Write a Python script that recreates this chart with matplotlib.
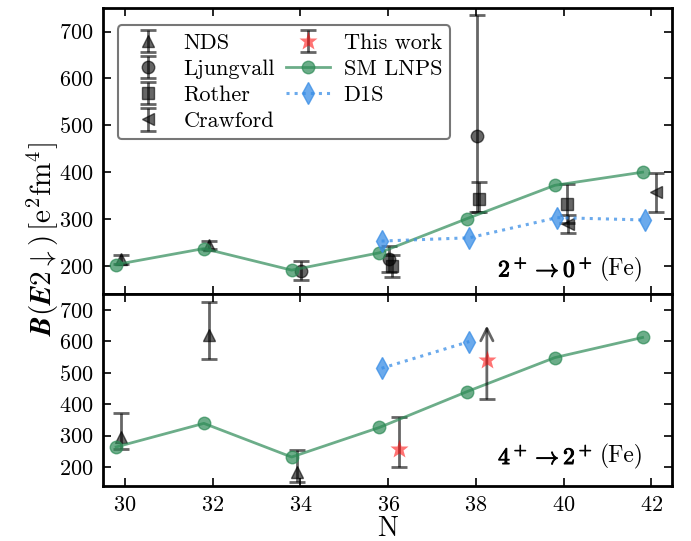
import matplotlib
matplotlib.use("Agg")
import matplotlib.pyplot as plt
import matplotlib.patheffects as pe

plt.rcParams['font.family'] = 'serif'
plt.rcParams['font.serif'] = ['cmr10', 'DejaVu Serif']
plt.rcParams['mathtext.fontset'] = 'cm'
plt.rcParams['axes.unicode_minus'] = False
plt.rcParams['axes.formatter.use_mathtext'] = True

# ---------------- data ----------------
xticks = [30, 32, 34, 36, 38, 40, 42]

# SM LNPS
sm_N = [30, 32, 34, 36, 38, 40, 42]
sm_20 = [203, 237, 191, 228, 301, 372, 400]
sm_42 = [264, 339, 232, 326, 440, 548, 612]

# D1S
d1s_N_20 = [36, 38, 40, 42]
d1s_20 = [253, 260, 303, 298]
d1s_N_42 = [36, 38]
d1s_42 = [514, 599]

# NDS
nds_N_20 = [30, 32]
nds_20 = [214, 245]
nds_20_err = [10, 9]
nds_N_42 = [30, 32, 34]
nds_42 = [296, 621, 184]
nds_42_lo = [40, 78, 32]
nds_42_hi = [76, 104, 69]

# Ljungvall
lj_N = [34, 36, 38]
lj_20 = [190, 214, 477]
lj_lo = [20, 28, 163]
lj_hi = [20, 28, 258]

# Rother
ro_N = [36, 38, 40]
ro_20 = [200, 342, 333]
ro_lo = [24, 28, 41]
ro_hi = [24, 38, 41]

# Crawford
cr_N = [40, 42]
cr_20 = [290, 357]
cr_err = [19, 42]

# This work (4+ -> 2+)
tw_N = [36, 38]
tw_42 = [256, 539]
tw_lo = [56]
tw_hi = [104]
tw_limit_low = 418   # lower limit of second point
tw_limit_arrow = 650  # arrow tip

# ---------------- styles ----------------
grey = 'k'
galpha = 0.6
green = '#2e8b57'
blue = '#3a8ee6'
eb_kw = dict(ls='none', color=grey, alpha=galpha, elinewidth=2, capsize=6, capthick=2)

fig, (ax1, ax2) = plt.subplots(2, 1, figsize=(6.91, 5.41), dpi=100, sharex=True,
                               gridspec_kw=dict(height_ratios=[286, 192]))
fig.subplots_adjust(left=0.149, right=0.9725, top=0.985, bottom=0.1017, hspace=0)

# ---- top panel: 2+ -> 0+
h_nds = ax1.errorbar([n - 0.08 for n in nds_N_20], nds_20, yerr=nds_20_err, marker='^', ms=8,
                     label='NDS', **eb_kw)
h_lj = ax1.errorbar([n + 0.02 for n in lj_N], lj_20, yerr=[lj_lo, lj_hi], marker='o', ms=9,
                    label='Ljungvall', **eb_kw)
h_ro = ax1.errorbar([n + 0.08 for n in ro_N], ro_20, yerr=[ro_lo, ro_hi], marker='s', ms=8,
                    label='Rother', **eb_kw)
h_cr = ax1.errorbar([n + 0.1 for n in cr_N], cr_20, yerr=cr_err, marker='<', ms=9,
                    label='Crawford', **eb_kw)
h_sm, = ax1.plot([n - 0.2 for n in sm_N], sm_20, '-o', color=green, alpha=0.7, lw=2, ms=9,
                 label='SM LNPS', zorder=3)
h_d1s, = ax1.plot([n - 0.15 for n in d1s_N_20], d1s_20, ':d', color=blue, alpha=0.75, lw=2.2,
                  ms=11, label='D1S', zorder=3)

# ---- bottom panel: 4+ -> 2+
ax2.errorbar([n - 0.08 for n in nds_N_42], nds_42, yerr=[nds_42_lo, nds_42_hi], marker='^', ms=8,
             **eb_kw)
ax2.plot([n - 0.2 for n in sm_N], sm_42, '-o', color=green, alpha=0.7, lw=2, ms=9, zorder=3)
ax2.plot([n - 0.15 for n in d1s_N_42], d1s_42, ':d', color=blue, alpha=0.75, lw=2.2, ms=11,
         zorder=3)
h_tw = ax2.errorbar([tw_N[0] + 0.25], [tw_42[0]], yerr=[tw_lo, tw_hi], marker='*', ms=14,
                    mfc='red', mec='none', label='This work', **eb_kw)
h_tw.lines[0].set_alpha(0.55)
h_tw.lines[0].set_color('red')
# lower limit point
ax2.plot([tw_N[1] + 0.25], [tw_42[1]], marker='*', ms=14, color='red', mec='none', alpha=0.55,
         ls='none', zorder=4)
ax2.annotate('', xy=(tw_N[1] + 0.25, tw_limit_arrow), xytext=(tw_N[1] + 0.25, tw_limit_low),
             arrowprops=dict(arrowstyle='->', color=grey, alpha=galpha, lw=2,
                             mutation_scale=22, shrinkA=0, shrinkB=0))
ax2.plot([tw_N[1] + 0.25], [tw_limit_low], marker='_', ms=12, mew=2, color=grey, alpha=galpha)

for ax in (ax1, ax2):
    ax.set_xlim(29.5, 42.47)
    ax.set_ylim(140, 750)
    ax.set_yticks([200, 300, 400, 500, 600, 700])
    ax.tick_params(direction='in', top=True, right=True, length=6, width=1.2, labelsize=16,
                   pad=7)
    for s in ax.spines.values():
        s.set_linewidth(2)
ax1.set_xticks(xticks)
ax1.tick_params(labelbottom=False)

ax2.set_xlabel('N', fontsize=20, labelpad=0)
fig.text(0.062, 0.558, r'$\boldsymbol{B(E2\downarrow)}\,[\mathrm{e^2fm^4}]$', rotation=90,
         ha='center', va='center', fontsize=21)

bold_fx = [pe.withStroke(linewidth=0.7, foreground='black')]


def transition_label(ax, ypos, bold_part):
    fe = ax.text(0.95, ypos, '(Fe)', transform=ax.transAxes, ha='right', va='baseline',
                 fontsize=17)
    ax.annotate(bold_part, xy=(0, 0), xycoords=fe, xytext=(-5, 3.8),
                textcoords='offset points', ha='right', va='baseline', fontsize=17,
                path_effects=bold_fx)


transition_label(ax1, 0.065, r'$\mathbf{2^+\rightarrow 0^+}$')
transition_label(ax2, 0.12, r'$\mathbf{4^+\rightarrow 2^+}$')

leg = ax1.legend([h_nds, h_lj, h_ro, h_cr, h_tw, h_sm, h_d1s],
                 ['NDS', 'Ljungvall', 'Rother', 'Crawford', 'This work', 'SM LNPS', 'D1S'],
                 ncol=2, loc='upper left', bbox_to_anchor=(0.026, 0.94), borderaxespad=0,
                 fontsize=16, labelspacing=0.3, columnspacing=0.5, handlelength=2.0,
                 handletextpad=0.6, borderpad=0.35, fancybox=True, framealpha=1)
leg.get_frame().set_edgecolor('#777777')
leg.get_frame().set_linewidth(1.5)

fig.savefig('out.png', dpi=100)
